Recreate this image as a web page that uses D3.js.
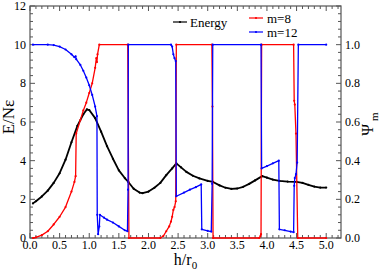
<!DOCTYPE html>
<html><head><meta charset="utf-8">
<script src="https://cdn.jsdelivr.net/npm/d3@7"></script>
<style>
body{margin:0;background:#fff;}
svg text{font-family:"Liberation Serif","Times New Roman",serif;fill:#000;}
</style></head>
<body><svg id="c" width="382" height="273"></svg>
<script>
// ---- data ----
const energyX = [0.05,0.1,0.2,0.3,0.4,0.5,0.6,0.7,0.8,0.9,0.96,1.0,1.1,1.2,1.3,1.4,1.5,1.6,1.66,1.75,1.85,1.9,2.0,2.1,2.2,2.3,2.4,2.47,2.55,2.64,2.75,2.86,3.0,3.09,3.2,3.3,3.4,3.5,3.6,3.7,3.8,3.92,4.0,4.1,4.21,4.35,4.5,4.6,4.7,4.8,4.9,5.0];
const energyY = [1.79,1.9,2.15,2.45,2.85,3.35,4.05,4.95,5.8,6.4,6.65,6.62,6.2,5.5,4.75,4.1,3.5,3.1,2.9,2.55,2.35,2.32,2.4,2.6,2.85,3.25,3.6,3.86,3.65,3.42,3.22,3.08,2.95,2.9,2.72,2.6,2.54,2.56,2.65,2.8,2.98,3.2,3.12,3.02,2.95,2.92,2.9,2.85,2.75,2.66,2.61,2.61];
const m8X = [0.05,0.1,0.2,0.3,0.4,0.5,0.6,0.7,0.75,0.77,0.78,0.85,0.9,0.95,1.0,1.05,1.1,1.12,1.13,1.14,1.17,1.65,1.67,2.2,2.25,2.3,2.35,2.38,2.4,2.42,2.44,2.46,2.47,3.07,3.08,3.09,3.87,3.89,3.9,3.91,4.45,4.46,4.47,4.49,4.52,5.0];
const m8Y = [0,0.003,0.015,0.035,0.07,0.11,0.16,0.24,0.29,0.32,0.54,0.61,0.66,0.7,0.75,0.8,0.88,0.93,0.91,0.95,1.0,1.0,0,0,0.01,0.035,0.06,0.085,0.11,0.145,0.16,0.19,1.0,1.0,0.68,0,0,0.01,0.02,1.0,1.0,0.71,0.69,0.54,0,0];
const m12X = [0.05,0.3,0.4,0.5,0.6,0.7,0.75,0.77,0.78,0.85,0.9,0.95,1.0,1.05,1.1,1.13,1.135,1.15,1.17,1.18,1.25,1.3,1.4,1.5,1.6,1.645,1.655,1.66,2.38,2.4,2.42,2.44,2.46,2.47,2.6,2.7,2.8,2.89,2.9,3.0,3.06,3.075,3.085,3.9,3.91,4.0,4.1,4.2,4.21,4.3,4.4,4.45,4.46,4.47,4.49,4.51,4.53,5.0];
const m12Y = [1.0,1.0,0.998,0.99,0.975,0.95,0.935,0.94,0.925,0.895,0.865,0.83,0.79,0.74,0.68,0.63,0.12,0.02,0.06,0.12,0.105,0.095,0.08,0.06,0.04,0.035,0.25,1.0,1.0,0.99,0.95,0.93,0.915,0.216,0.235,0.25,0.263,0.277,0.045,0.037,0.033,0.28,1.0,1.0,0.36,0.372,0.386,0.4,0.045,0.04,0.033,0.03,0.27,0.31,0.33,0.39,1.0,1.0];
const xTicks = [0,0.5,1,1.5,2,2.5,3,3.5,4,4.5,5];
const yTicks = [0,2,4,6,8,10,12];
const psiTicks = [0,0.2,0.4,0.6,0.8,1.0];
const legendLabels = ["Energy","m=8","m=12"];

// ---- layout ----
const svg = d3.select("#c");
const L=30,R=341,T=6,B=238;
const x = d3.scaleLinear().domain([0,5.25]).range([L,R]);
const y = d3.scaleLinear().domain([0,12]).range([B,T]);
const yr = d3.scaleLinear().domain([0,1.2]).range([B,T]);
const axisCol="#555";

function ticks(a,b,s){const r=[];for(let v=a;v<=b+1e-9;v+=s)r.push(+v.toFixed(4));return r;}

// frame
svg.append("rect").attr("x",L).attr("y",T).attr("width",R-L).attr("height",B-T)
  .attr("fill","none").attr("stroke",axisCol).attr("stroke-width",1.2);

const g = svg.append("g").attr("stroke",axisCol).attr("stroke-width",1);
ticks(0,5.2,0.1).forEach(v=>{
  const major = xTicks.some(t=>Math.abs(t-v)<1e-6);
  const len = major?5:3;
  g.append("line").attr("x1",x(v)).attr("x2",x(v)).attr("y1",B).attr("y2",B-len);
  g.append("line").attr("x1",x(v)).attr("x2",x(v)).attr("y1",T).attr("y2",T+len);
});
ticks(0,12,0.4).forEach(v=>{
  const major = yTicks.some(t=>Math.abs(t-v)<1e-6);
  const len = major?5:3;
  g.append("line").attr("x1",L).attr("x2",L+len).attr("y1",y(v)).attr("y2",y(v));
  g.append("line").attr("x1",R).attr("x2",R-len).attr("y1",y(v)).attr("y2",y(v));
});

// tick labels
svg.selectAll(".xl").data(xTicks).enter().append("text")
  .attr("x",d=>x(d)).attr("y",B+11).attr("text-anchor","middle").attr("font-size",12)
  .text(d=>d.toFixed(1));
svg.selectAll(".yl").data(yTicks).enter().append("text")
  .attr("x",L-4).attr("y",d=>y(d)+4).attr("text-anchor","end").attr("font-size",12)
  .text(d=>d);
svg.selectAll(".rl").data(psiTicks).enter().append("text")
  .attr("x",R+4).attr("y",d=>yr(d)+4).attr("text-anchor","start").attr("font-size",12)
  .text(d=>d.toFixed(1));

// axis titles
const xt = svg.append("text").attr("x",(L+R)/2).attr("y",265).attr("text-anchor","middle").attr("font-size",16);
xt.append("tspan").text("h/r");
xt.append("tspan").attr("font-size",11).attr("dy",4).text("0");
svg.append("text").attr("transform","translate(14,117) rotate(-90)").attr("text-anchor","middle")
  .attr("font-size",17).text("E/Nε");
const pt = svg.append("text").attr("transform","translate(373,124) rotate(-90)").attr("text-anchor","middle").attr("font-size",16);
pt.append("tspan").text("Ψ");
pt.append("tspan").attr("font-size",11).attr("dy",5).attr("dx",3).text("m");

// series
function series(xs,ys,sc,col,w){
  const pts = xs.map((v,i)=>[v,ys[i]]);
  const line = d3.line().x(d=>x(d[0])).y(d=>sc(d[1]));
  svg.append("path").attr("d",line(pts)).attr("fill","none").attr("stroke",col).attr("stroke-width",w).attr("stroke-linejoin","round");
  svg.append("g").selectAll("circle").data(pts).enter().append("circle")
    .attr("cx",d=>x(d[0])).attr("cy",d=>sc(d[1])).attr("r",1.1).attr("fill",col);
}
series(energyX,energyY,y,"#000",1.8);
series(m8X,m8Y,yr,"#ff0000",1.3);
series(m12X,m12Y,yr,"#0000ff",1.3);

// legend
const leg = [
  {lx1:173,lx2:187,ly:22,col:"#000",t:legendLabels[0],tx:190},
  {lx1:249,lx2:263,ly:18,col:"#ff0000",t:legendLabels[1],tx:267},
  {lx1:249,lx2:263,ly:32,col:"#0000ff",t:legendLabels[2],tx:267}
];
leg.forEach(d=>{
  svg.append("line").attr("x1",d.lx1).attr("x2",d.lx2).attr("y1",d.ly).attr("y2",d.ly).attr("stroke",d.col).attr("stroke-width",1.2);
  svg.append("circle").attr("cx",(d.lx1+d.lx2)/2).attr("cy",d.ly).attr("r",1.1).attr("fill",d.col);
  svg.append("text").attr("x",d.tx).attr("y",d.ly+4.5).attr("font-size",13).text(d.t);
});
</script></body></html>
